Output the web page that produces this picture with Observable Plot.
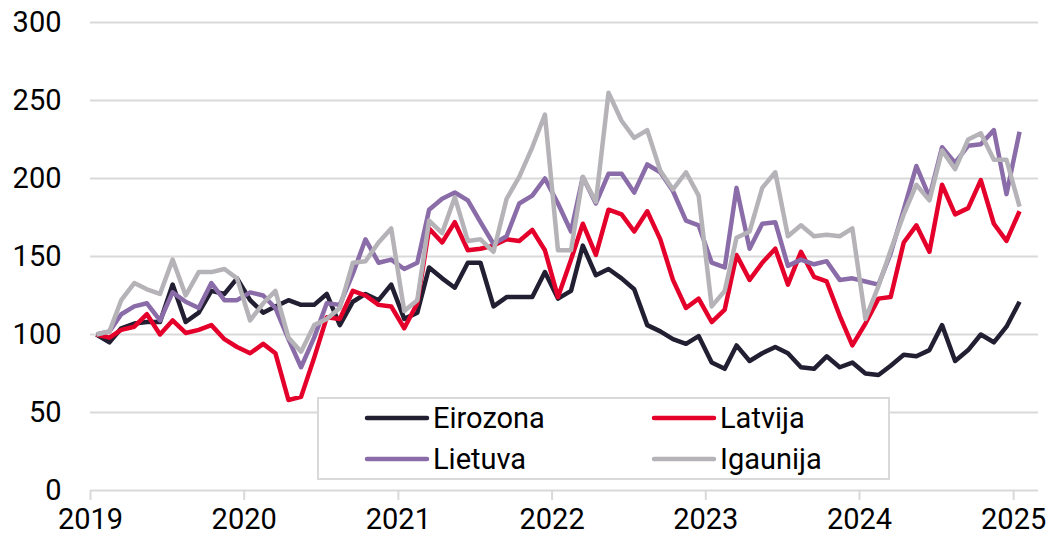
<!DOCTYPE html>
<html>
<head>
<meta charset="utf-8">
<script src="https://cdn.jsdelivr.net/npm/d3@7"></script>
<script src="https://cdn.jsdelivr.net/npm/@observablehq/plot@0.6"></script>
<style>
  html, body { margin: 0; padding: 0; background: #fff; }
  #chart { width: 1055px; height: 543px; overflow: hidden; }
</style>
</head>
<body>
<div id="chart"></div>
<script>
// Monthly index, Jan 2019 = 100 (Jan 2019 .. Jan 2025)
const startYear = 2019;
const seriesNames = ["Eirozona", "Latvija", "Lietuva", "Igaunija"];
const seriesColors = ["#231f32", "#e4002b", "#8a6ca8", "#b5b3b7"];
const yTicks = [0, 50, 100, 150, 200, 250, 300];
const yearTicks = [2019, 2020, 2021, 2022, 2023, 2024, 2025];

const eirozona = [100, 95, 104, 107, 108, 108, 132, 108, 114, 128, 126, 136,
  122, 114, 118, 122, 119, 119, 126, 106, 121, 126, 122, 132,
  110, 114, 143, 136, 130, 146, 146, 118, 124, 124, 124, 140,
  123, 128, 157, 138, 142, 136, 129, 106, 102, 97, 94, 99,
  82, 78, 93, 83, 88, 92, 88, 79, 78, 86, 79, 82,
  75, 74, 80, 87, 86, 90, 106, 83, 90, 100, 95, 105,
  121];
const latvija = [100, 98, 103, 105, 113, 100, 109, 101, 103, 106, 97, 92,
  88, 94, 88, 58, 60, 85, 111, 110, 128, 125, 119, 118,
  104, 120, 168, 159, 172, 154, 155, 157, 161, 160, 167, 154,
  124, 148, 171, 151, 180, 177, 166, 179, 161, 135, 117, 123,
  108, 116, 151, 135, 146, 155, 132, 153, 137, 134, 112, 93,
  107, 123, 124, 159, 170, 153, 196, 177, 181, 199, 171, 160,
  179];
const lietuva = [100, 102, 113, 118, 120, 109, 127, 121, 117, 133, 122, 122,
  127, 125, 117, 97, 79, 98, 120, 119, 139, 161, 146, 148,
  142, 146, 180, 187, 191, 186, 172, 158, 163, 184, 189, 200,
  184, 166, 201, 184, 203, 203, 191, 209, 204, 192, 173, 170,
  146, 143, 194, 155, 171, 172, 144, 148, 145, 147, 135, 136,
  134, 132, 152, 180, 208, 188, 220, 210, 221, 222, 231, 190,
  230];
const igaunija = [100, 102, 122, 133, 129, 126, 148, 125, 140, 140, 142, 136,
  109, 120, 128, 98, 89, 106, 110, 117, 146, 147, 159, 168,
  115, 122, 173, 165, 188, 160, 161, 153, 187, 201, 220, 241,
  154, 154, 201, 185, 255, 237, 226, 231, 205, 193, 204, 189,
  118, 128, 162, 166, 194, 204, 163, 170, 163, 164, 163, 168,
  110, 131, 154, 177, 196, 186, 218, 206, 225, 229, 212, 212,
  182];

const seriesValues = [eirozona, latvija, lietuva, igaunija];
const data = seriesNames.flatMap((name, s) =>
  seriesValues[s].map((v, i) => ({
    series: name,
    date: new Date(Date.UTC(startYear, i, 15)),
    value: v
  }))
);

const font = "Roboto, 'Open Sans', sans-serif";
const fs = 29;

const svg = Plot.plot({
  width: 1055,
  height: 543,
  marginTop: 22,
  marginBottom: 53,
  marginLeft: 90,
  marginRight: 17,
  style: { fontFamily: font, fontSize: fs + "px", color: "#000", background: "#fff", overflow: "visible" },
  x: { type: "utc", domain: [new Date(Date.UTC(2019, 0, 1)), new Date(Date.UTC(2025, 2, 1))] },
  y: { domain: [0, 300] },
  color: { domain: seriesNames, range: seriesColors },
  marks: [
    Plot.gridY(yTicks, { stroke: "#d9d9d9", strokeOpacity: 1, strokeWidth: 2 }),
    Plot.axisY(yTicks, { tickSize: 0, tickPadding: 29, label: null, fontSize: fs, fill: "#000" }),
    Plot.axisX(yearTicks.map(y => new Date(Date.UTC(y, 0, 1))), {
      tickSize: 10, tickPadding: 8, label: null, fontSize: fs,
      stroke: "#d9d9d9", strokeWidth: 2, strokeOpacity: 1, fill: "#000",
      tickFormat: d => String(d.getUTCFullYear())
    }),
    Plot.lineY(data, {
      x: "date", y: "value", z: "series", stroke: "series",
      strokeWidth: 4.5, strokeLinejoin: "round", strokeLinecap: "butt"
    })
  ]
});

document.getElementById("chart").appendChild(svg);

// Legend box drawn inside the plot area
const root = d3.select(svg);
const lg = root.append("g")
  .attr("font-family", font)
  .attr("font-size", fs)
  .attr("text-anchor", "start");
lg.append("rect")
  .attr("x", 318).attr("y", 398).attr("width", 571).attr("height", 81)
  .attr("fill", "#fff").attr("stroke", "#d9d9d9").attr("stroke-width", 2);
const cols = [367, 654];
const rows = [418, 459];
seriesNames.forEach((name, i) => {
  const cx = cols[i % 2];
  const cy = rows[Math.floor(i / 2)];
  lg.append("line")
    .attr("x1", cx).attr("x2", cx + 60).attr("y1", cy).attr("y2", cy)
    .attr("stroke", seriesColors[i]).attr("stroke-width", 4.5).attr("stroke-linecap", "round");
  lg.append("text")
    .attr("x", cx + 66).attr("y", cy + 10)
    .attr("text-anchor", "start")
    .attr("fill", "#000")
    .text(name);
});
</script>
</body>
</html>
